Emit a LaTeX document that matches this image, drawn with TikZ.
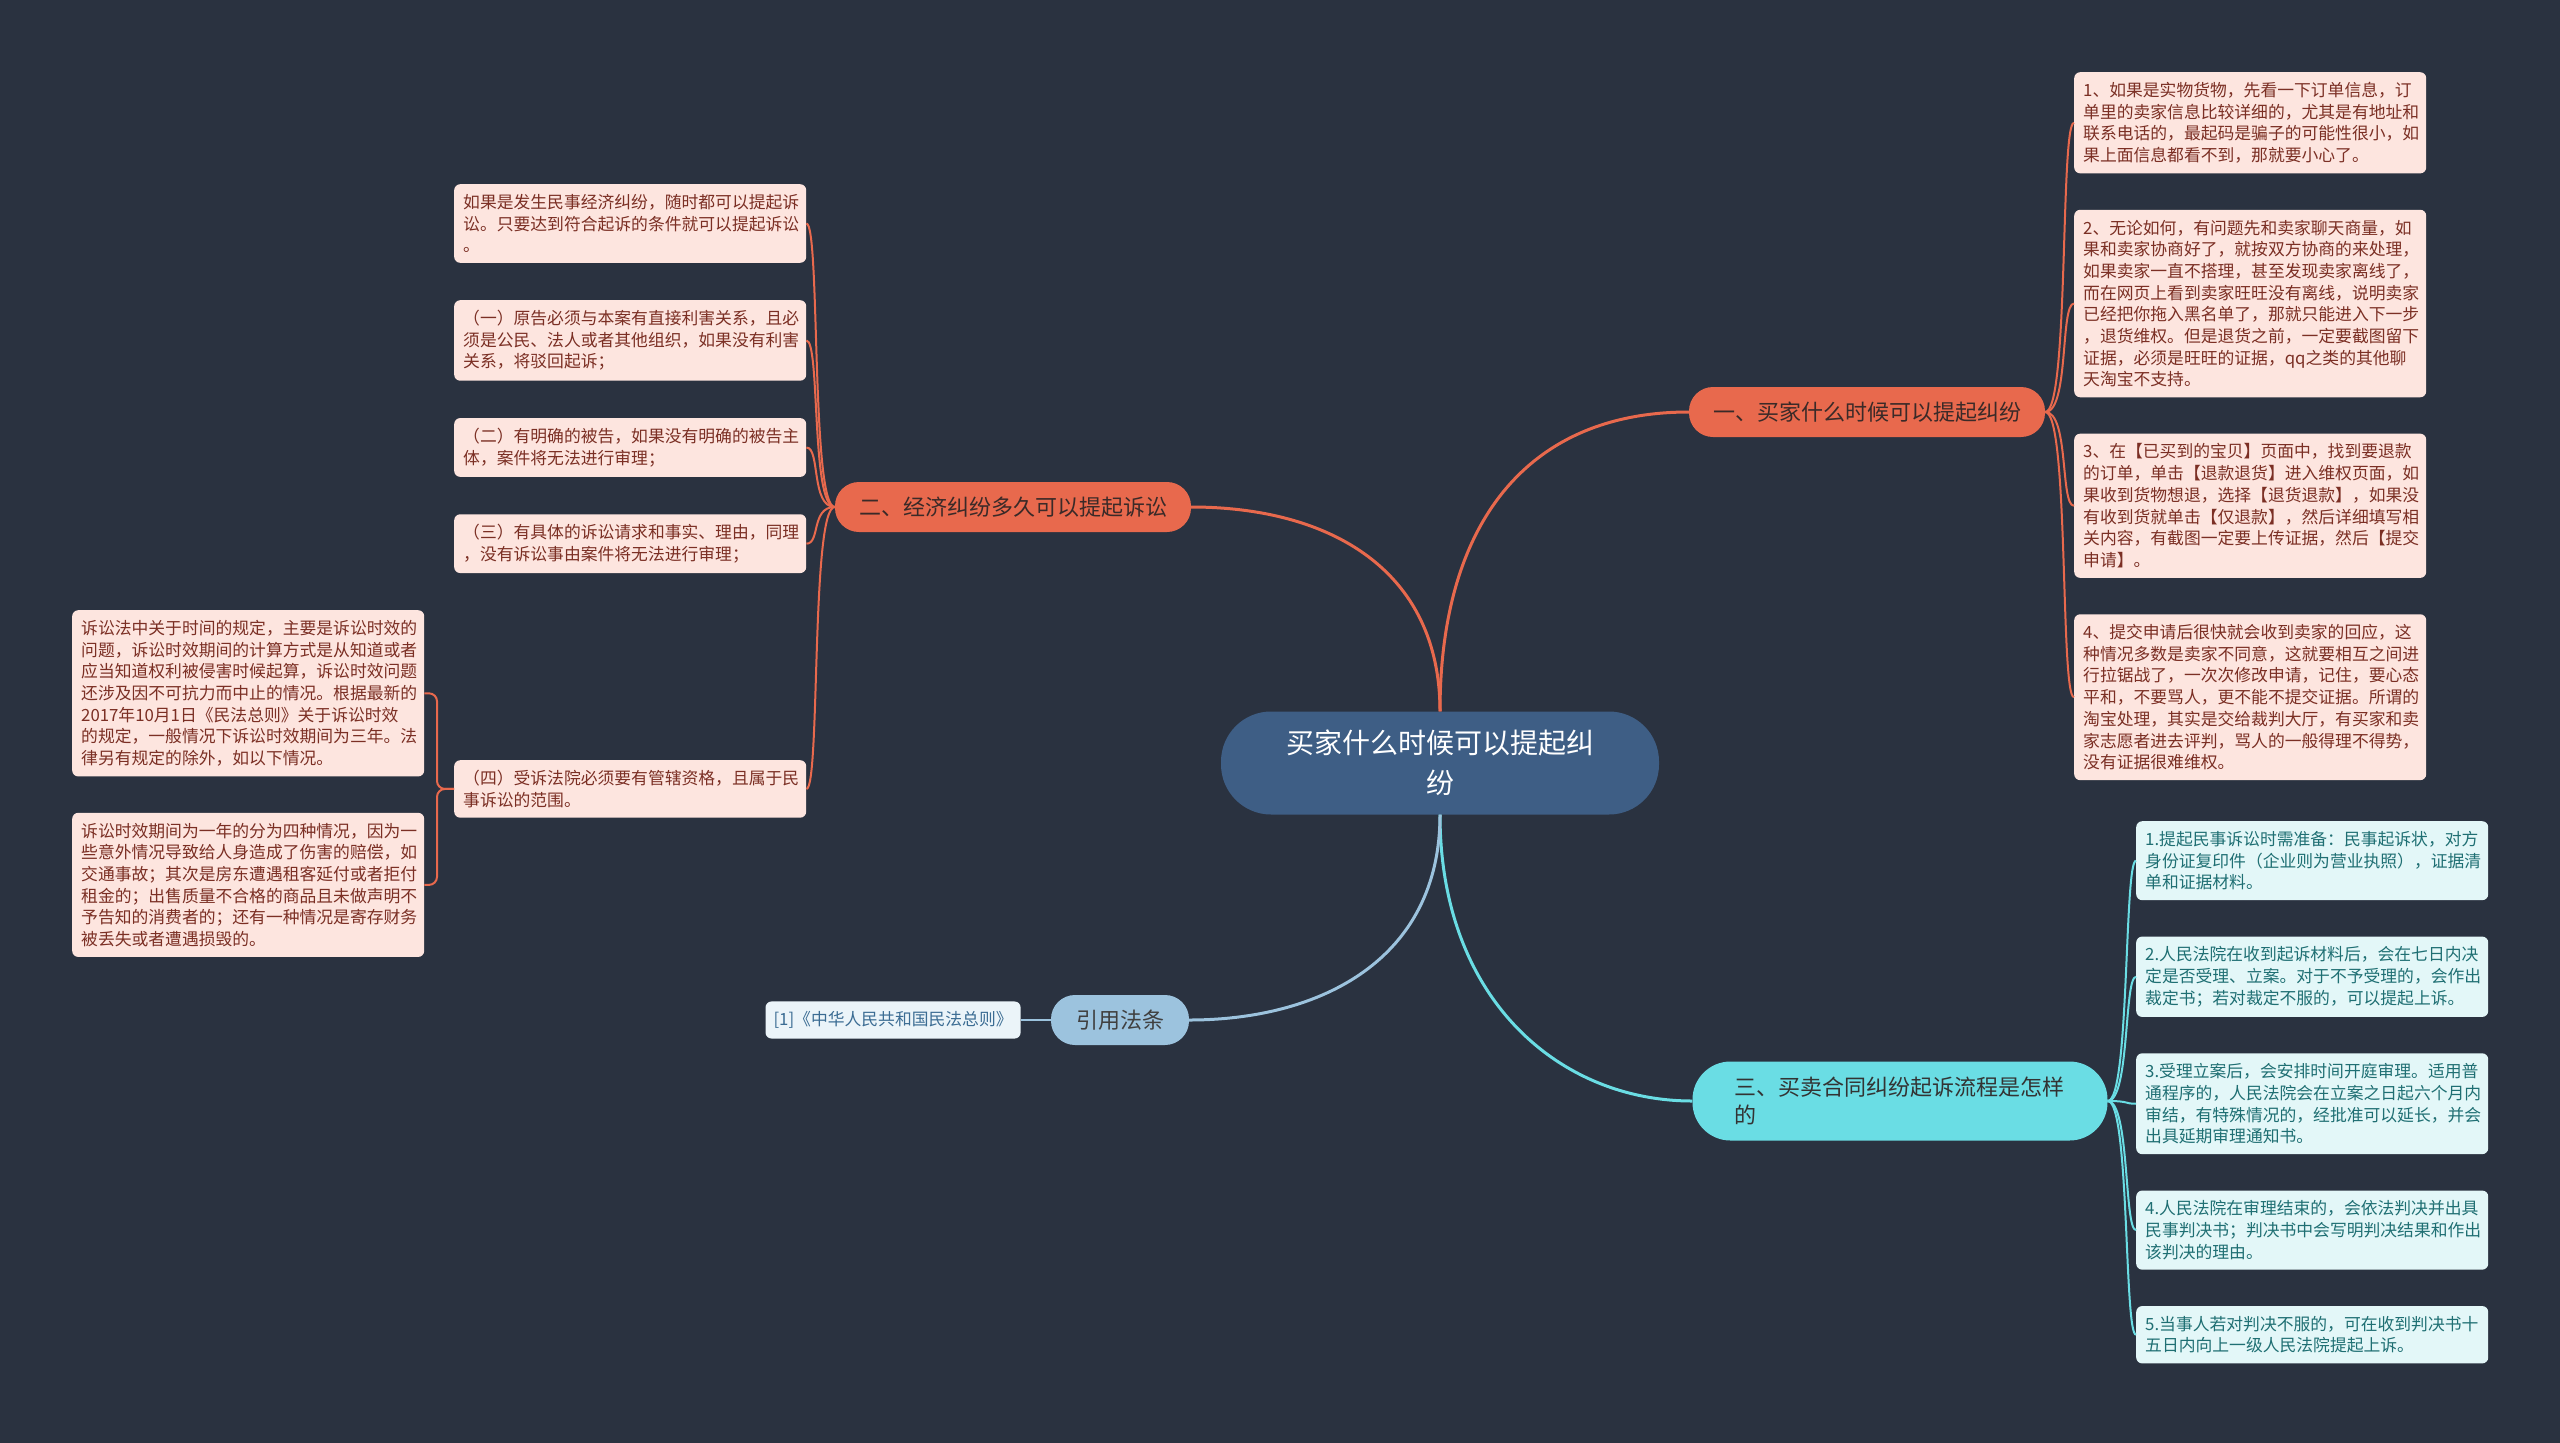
\documentclass[tikz,border=0pt]{standalone}
\usepackage{fontspec}
\setmainfont{Noto Sans CJK SC}
\usepackage{tikz}
\usetikzlibrary{positioning}

\definecolor{bgnavy}{HTML}{2A3240}
\definecolor{rootblue}{HTML}{3E5E85}
\definecolor{coral}{HTML}{E8694D}
\definecolor{aqua}{HTML}{6ADDE4}
\definecolor{skyblue}{HTML}{9CC3DE}
\definecolor{leafpink}{HTML}{FDE5DF}
\definecolor{leafred}{HTML}{7B2F24}
\definecolor{leafcyan}{HTML}{E3F7F8}
\definecolor{leafteal}{HTML}{1F6F73}
\definecolor{leafsky}{HTML}{EBF4F9}
\definecolor{leafnavy}{HTML}{3B6C93}
\definecolor{darktext}{HTML}{3A2A28}

\begin{document}
\begin{tikzpicture}[x=1pt, y=-1pt,
    rootbox/.style={rectangle, fill=rootblue, rounded corners=50pt, minimum width=438pt,
    minimum height=103pt, text=white, align=center, font=\fontsize{28}{40}\selectfont},
    branch/.style={rectangle, rounded corners=24pt, minimum height=50pt, inner xsep=24pt,
    font=\fontsize{22}{28}\selectfont},
    leaf/.style={rectangle, rounded corners=6pt, text width=334pt, inner xsep=9pt,
    inner ysep=10pt, align=left, anchor=north west, font=\fontsize{16.8}{21.7}\selectfont},
    pinkleaf/.style={leaf, fill=leafpink, text=leafred},
    cyanleaf/.style={leaf, fill=leafcyan, text=leafteal},
    mainline/.style={line width=3pt},
    thinline/.style={line width=2pt}]

    \fill [bgnavy] (0,0) rectangle (2560,1443);
    \useasboundingbox (0,0) rectangle (2560,1443);

    \node (root) [rootbox] at (1440,763) {买家什么时候可以提起纠\\纷};

    \node (buyer) [branch, fill=coral, text=darktext] at (1867,412) {一、买家什么时候可以提起纠纷};
    \node (suit) [branch, fill=coral, text=darktext] at (1013,507) {二、经济纠纷多久可以提起诉讼};
    \node (flow) [branch, fill=aqua, text=black!80, rounded corners=38pt, minimum height=79pt,
        text width=331pt, inner xsep=42pt, align=left] at (1900,1101) {三、买卖合同纠纷起诉流程是怎样\\的};
    \node (law) [branch, fill=skyblue, text=black!75, inner xsep=25pt] at (1120,1020) {引用法条};
    \node (lawitem) [rectangle, rounded corners=6pt, fill=leafsky, text=leafnavy, inner xsep=8pt,
        inner ysep=10pt, font=\fontsize{16.8}{21.7}\selectfont, left=30pt of law] {[1]《中华人民共和国民法总则》};

    \node (buyer1) [pinkleaf] at (2074,72) {
        1、如果是实物货物，先看一下订单信息，订\\单里的卖家信息比较详细的，尤其是有地址和\\
        联系电话的，最起码是骗子的可能性很小，如\\果上面信息都看不到，那就要小心了。};
    \node (buyer2) [pinkleaf, below right=36pt and 0pt of buyer1.south west] {
        2、无论如何，有问题先和卖家聊天商量，如\\果和卖家协商好了，就按双方协商的来处理，\\
        如果卖家一直不搭理，甚至发现卖家离线了，\\而在网页上看到卖家旺旺没有离线，说明卖家\\
        已经把你拖入黑名单了，那就只能进入下一步\\，退货维权。但是退货之前，一定要截图留下\\
        证据，必须是旺旺的证据，qq之类的其他聊\\天淘宝不支持。};
    \node (buyer3) [pinkleaf, below right=36pt and 0pt of buyer2.south west] {
        3、在【已买到的宝贝】页面中，找到要退款\\的订单，单击【退款退货】进入维权页面，如\\
        果收到货物想退，选择【退货退款】，如果没\\有收到货就单击【仅退款】，然后详细填写相\\
        关内容，有截图一定要上传证据，然后【提交\\申请】。};
    \node (buyer4) [pinkleaf, below right=36pt and 0pt of buyer3.south west] {
        4、提交申请后很快就会收到卖家的回应，这\\种情况多数是卖家不同意，这就要相互之间进\\
        行拉锯战了，一次次修改申请，记住，要心态\\平和，不要骂人，更不能不提交证据。所谓的\\
        淘宝处理，其实是交给裁判大厅，有买家和卖\\家志愿者进去评判，骂人的一般得理不得势，\\
        没有证据很难维权。};

    \node (suit1) [pinkleaf] at (454,184) {
        如果是发生民事经济纠纷，随时都可以提起诉\\讼。只要达到符合起诉的条件就可以提起诉讼\\。};
    \node (suit2) [pinkleaf, below right=37pt and 0pt of suit1.south west] {
        （一）原告必须与本案有直接利害关系，且必\\须是公民、法人或者其他组织，如果没有利害\\关系，将驳回起诉；};
    \node (suit3) [pinkleaf, below right=37pt and 0pt of suit2.south west] {
        （二）有明确的被告，如果没有明确的被告主\\体，案件将无法进行审理；};
    \node (suit4) [pinkleaf, below right=37pt and 0pt of suit3.south west] {
        （三）有具体的诉讼请求和事实、理由，同理\\，没有诉讼事由案件将无法进行审理；};
    \node (suit5) [pinkleaf] at (454,760) {
        （四）受诉法院必须要有管辖资格，且属于民\\事诉讼的范围。};

    \node (limit1) [pinkleaf] at (72,610) {
        诉讼法中关于时间的规定，主要是诉讼时效的\\问题，诉讼时效期间的计算方式是从知道或者\\
        应当知道权利被侵害时候起算，诉讼时效问题\\还涉及因不可抗力而中止的情况。根据最新的\\
        2017年10月1日《民法总则》关于诉讼时效\\的规定，一般情况下诉讼时效期间为三年。法\\
        律另有规定的除外，如以下情况。};
    \node (limit2) [pinkleaf, below right=36pt and 0pt of limit1.south west] {
        诉讼时效期间为一年的分为四种情况，因为一\\些意外情况导致给人身造成了伤害的赔偿，如\\
        交通事故；其次是房东遭遇租客延付或者拒付\\租金的；出售质量不合格的商品且未做声明不\\
        予告知的消费者的；还有一种情况是寄存财务\\被丢失或者遭遇损毁的。};

    \node (flow1) [cyanleaf] at (2136,821) {
        1.提起民事诉讼时需准备：民事起诉状，对方\\身份证复印件（企业则为营业执照），证据清\\单和证据材料。};
    \node (flow2) [cyanleaf, below right=36pt and 0pt of flow1.south west] {
        2.人民法院在收到起诉材料后，会在七日内决\\定是否受理、立案。对于不予受理的，会作出\\裁定书；若对裁定不服的，可以提起上诉。};
    \node (flow3) [cyanleaf, below right=36pt and 0pt of flow2.south west] {
        3.受理立案后，会安排时间开庭审理。适用普\\通程序的，人民法院会在立案之日起六个月内\\
        审结，有特殊情况的，经批准可以延长，并会\\出具延期审理通知书。};
    \node (flow4) [cyanleaf, below right=36pt and 0pt of flow3.south west] {
        4.人民法院在审理结束的，会依法判决并出具\\民事判决书；判决书中会写明判决结果和作出\\该判决的理由。};
    \node (flow5) [cyanleaf, below right=36pt and 0pt of flow4.south west] {
        5.当事人若对判决不服的，可在收到判决书十\\五日内向上一级人民法院提起上诉。};

    \draw [mainline, coral] (root.north) .. controls (1440,520) and (1530,412) .. (buyer.west);
    \draw [mainline, coral] (root.north) .. controls (1440,570) and (1330,507) .. (suit.east);
    \draw [mainline, aqua] (root.south) .. controls (1440,1000) and (1560,1101) .. (flow.west);
    \draw [mainline, skyblue] (root.south) .. controls (1440,960) and (1320,1020) .. (law.east);

    \foreach \n in {buyer1,buyer2,buyer3,buyer4}
        \draw [thinline, coral] (buyer.east) .. controls +(24,0) and +(-14,0) .. (\n.west);
    \foreach \n in {suit1,suit2,suit3,suit4,suit5}
        \draw [thinline, coral] (suit.west) .. controls +(-24,0) and +(14,0) .. (\n.east);
    \foreach \n in {limit1,limit2}
        \draw [thinline, coral, rounded corners=8pt] (suit5.west) -- ++(-17,0) |- (\n.east);
    \foreach \n in {flow1,flow2,flow3,flow4,flow5}
        \draw [thinline, aqua] (flow.east) .. controls +(22,0) and +(-12,0) .. (\n.west);
    \draw [thinline, skyblue] (law.west) -- (lawitem.east);
\end{tikzpicture}
\end{document}
